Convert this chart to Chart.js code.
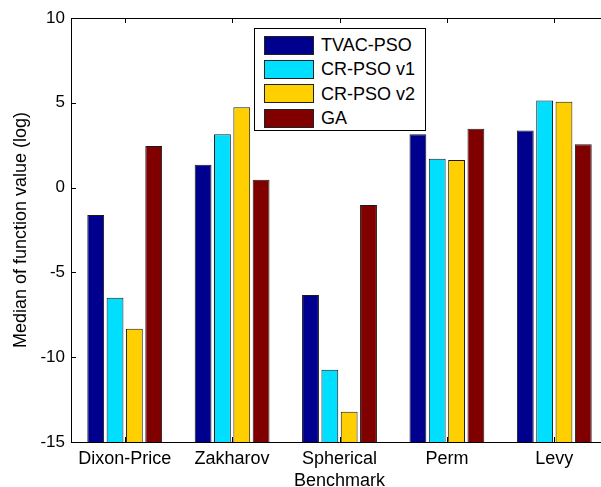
<!DOCTYPE html>
<html>
<head>
<meta charset="utf-8">
<script src="https://cdn.jsdelivr.net/npm/chart.js@4/dist/chart.umd.min.js"></script>
<style>
	html, body {
		margin: 0;
		padding: 0;
		background: #fff;
		overflow: hidden;
	}
	.viewport {
		width: 601px;
		height: 487px;
		overflow: hidden;
	}
	.chart-wrap {
		position: relative;
		width: 608px;
		height: 487px;
	}
	#legend-container {
		position: absolute;
		left: 254px;
		top: 28px;
		width: 170px;
		height: 101px;
		border: 1px solid #000;
		background: #fff;
		font-family: 'Liberation Sans', Arial, sans-serif;
		font-size: 18px;
		color: #000;
	}
	#legend-container ul {
		list-style: none;
		margin: 0;
		padding: 4px 0 0 9px;
	}
	#legend-container li {
		display: flex;
		align-items: center;
		height: 24.3px;
	}
	#legend-container span {
		display: block;
		width: 48px;
		height: 17px;
		border: 1px solid #222;
		margin-right: 7px;
	}
	#legend-container p {
		margin: 0;
		line-height: 20px;
	}
</style>
</head>
<body>
<div class="viewport">
	<div class="chart-wrap">
		<canvas id="chart" width="608" height="487"></canvas>
		<div id="legend-container"></div>
	</div>
</div>
<script>
/* ==========================================================================
 Data
 ========================================================================== */

const categories = ['Dixon-Price', 'Zakharov', 'Spherical', 'Perm', 'Levy'];
const seriesNames = ['TVAC-PSO', 'CR-PSO v1', 'CR-PSO v2', 'GA'];
const tvacPso = [-1.62, 1.34, -6.33, 3.15, 3.37];
const crPsoV1 = [-6.49, 3.15, -10.74, 1.70, 5.14];
const crPsoV2 = [-8.32, 4.74, -13.21, 1.62, 5.06];
const ga = [2.45, 0.46, -1.03, 3.47, 2.56];
const yTicks = [-15, -10, -5, 0, 5, 10];

const colors = ['#00008f', '#00dfff', '#ffcf00', '#800000'];
const font = "'Liberation Sans', Arial, sans-serif";

/* ==========================================================================
 HTML Legend
 ========================================================================== */

const htmlLegendPlugin = {
	id: 'htmlLegend',
	afterUpdate(chart, args, options) {
		const box = document.getElementById(options.containerID);
		let ul = box.querySelector('ul');
		if (!ul) {
			ul = document.createElement('ul');
			box.appendChild(ul);
		}
		while (ul.firstChild) {
			ul.firstChild.remove();
		}

		chart.data.datasets.forEach(ds => {
			const li = document.createElement('li');

			// Color box
			const boxSpan = document.createElement('span');
			boxSpan.style.background = ds.backgroundColor;

			// Text
			const p = document.createElement('p');
			p.appendChild(document.createTextNode(ds.label));

			li.appendChild(boxSpan);
			li.appendChild(p);
			ul.appendChild(li);
		});
	}
};

/* ==========================================================================
 Axes frame (MATLAB style box with inward ticks)
 ========================================================================== */

const framePlugin = {
	id: 'frame',
	afterDatasetsDraw(chart) {
		const {ctx, chartArea: {left, right, top, bottom}, scales: {x, y}} = chart;
		const len = 5;
		ctx.save();
		ctx.strokeStyle = '#000';
		ctx.lineWidth = 1;
		ctx.beginPath();
		ctx.moveTo(right, top + 0.5);
		ctx.lineTo(left + 0.5, top + 0.5);
		ctx.lineTo(left + 0.5, bottom + 0.5);
		ctx.lineTo(right, bottom + 0.5);

		x.ticks.forEach((t, i) => {
			const px = Math.round(x.getPixelForTick(i)) + 0.5;
			ctx.moveTo(px, top);
			ctx.lineTo(px, top + len);
			ctx.moveTo(px, bottom);
			ctx.lineTo(px, bottom - len);
		});
		y.ticks.forEach(t => {
			const py = Math.round(y.getPixelForValue(t.value)) + 0.5;
			ctx.moveTo(left, py);
			ctx.lineTo(left + len, py);
		});
		ctx.stroke();
		ctx.restore();
	}
};

/* ==========================================================================
 Setup
 ========================================================================== */

const values = [tvacPso, crPsoV1, crPsoV2, ga];

const data = {
	labels: categories,
	datasets: seriesNames.map((name, i) => ({
		label: name,
		data: values[i],
		backgroundColor: colors[i],
		borderColor: '#1a1a1a',
		borderWidth: 1,
		base: -15,
		categoryPercentage: 0.72,
		barPercentage: 0.87,
	})),
};

/* ==========================================================================
 Config
 ========================================================================== */

const config = {
	type: 'bar',
	data: data,
	options: {
		responsive: false,
		animation: false,
		events: [],
		layout: {
			padding: {
				top: 18,
				right: 0,
				left: 0,
				bottom: 0,
			},
		},
		scales: {
			x: {
				grid: {
					display: false,
					drawTicks: false,
					tickLength: 0,
				},
				border: {
					display: false,
				},
				ticks: {
					color: '#000',
					padding: 6,
					maxRotation: 0,
					font: {
						size: 18,
						family: font,
					},
				},
				title: {
					display: true,
					text: 'Benchmark',
					color: '#000',
					padding: {top: 0, bottom: -5},
					font: {
						size: 18,
						family: font,
					},
				},
				afterFit(scale) {
					scale.height = 45;
				},
			},
			y: {
				min: -15,
				max: 10,
				grid: {
					display: false,
					drawTicks: false,
					tickLength: 0,
				},
				border: {
					display: false,
				},
				afterBuildTicks(scale) {
					scale.ticks = yTicks.map(v => ({value: v}));
				},
				ticks: {
					color: '#000',
					padding: 6,
					font: {
						size: 17,
						family: font,
					},
				},
				title: {
					display: true,
					text: 'Median of function value (log)',
					color: '#000',
					padding: {top: 10, bottom: 0},
					font: {
						size: 18,
						family: font,
					},
				},
				afterFit(scale) {
					scale.width = 71;
				},
			},
		},
		plugins: {
			tooltip: {
				enabled: false,
			},
			legend: {
				display: false,
			},
			htmlLegend: {
				containerID: 'legend-container',
			},
		},
	},
	plugins: [htmlLegendPlugin, framePlugin],
};

/* ==========================================================================
 Render
 ========================================================================== */

const myChart = new Chart(
	document.getElementById('chart'),
	config
);
</script>
</body>
</html>
